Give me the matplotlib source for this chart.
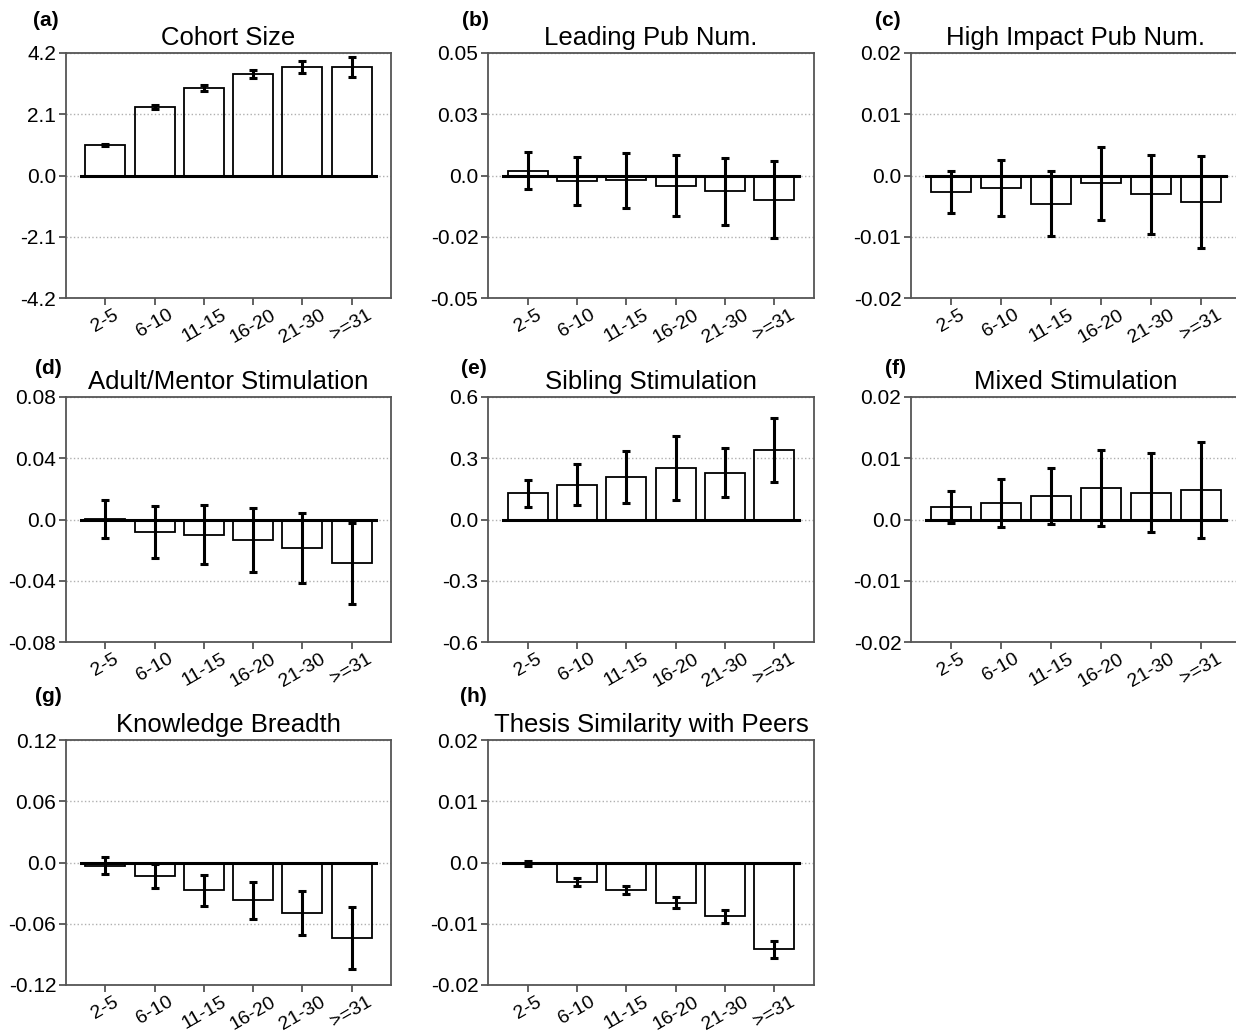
import matplotlib
matplotlib.use("Agg")
import matplotlib.pyplot as plt
import numpy as np

plt.rcParams["font.family"] = ["Liberation Sans", "DejaVu Sans"]

groups = ["2-5", "6-10", "11-15", "16-20", "21-30", ">=31"]

titles = [
    "Cohort Size",
    "Leading Pub Num.",
    "High Impact Pub Num.",
    "Adult/Mentor Stimulation",
    "Sibling Stimulation",
    "Mixed Stimulation",
    "Knowledge Breadth",
    "Thesis Similarity with Peers",
]
letters = ["(a)", "(b)", "(c)", "(d)", "(e)", "(f)", "(g)", "(h)"]

cohort_size = [1.04, 2.35, 3.00, 3.48, 3.72, 3.72]
cohort_size_err = [0.03, 0.07, 0.11, 0.14, 0.19, 0.33]

leading_pub = [0.002, -0.0022, -0.002, -0.0041, -0.0065, -0.0099]
leading_pub_err = [0.0076, 0.0097, 0.0112, 0.0124, 0.0136, 0.0157]

high_impact = [-0.0027, -0.002, -0.0046, -0.0013, -0.0031, -0.0043]
high_impact_err = [0.0035, 0.0046, 0.0053, 0.0059, 0.0065, 0.0075]

adult_mentor = [0.0004, -0.0083, -0.0099, -0.0136, -0.0184, -0.0287]
adult_mentor_err = [0.0124, 0.0168, 0.0193, 0.021, 0.0229, 0.0265]

sibling = [0.128, 0.171, 0.209, 0.253, 0.229, 0.342]
sibling_err = [0.067, 0.10, 0.127, 0.158, 0.119, 0.157]

mixed = [0.002, 0.0027, 0.0038, 0.0052, 0.0044, 0.0048]
mixed_err = [0.0026, 0.0039, 0.0046, 0.0062, 0.0064, 0.0079]

knowledge = [-0.0033, -0.0134, -0.0272, -0.037, -0.0495, -0.0741]
knowledge_err = [0.0084, 0.012, 0.0152, 0.0182, 0.022, 0.0303]

thesis_sim = [-0.0002, -0.0032, -0.0045, -0.0066, -0.0088, -0.0142]
thesis_sim_err = [0.0004, 0.0006, 0.0007, 0.0009, 0.0011, 0.0014]

values = [cohort_size, leading_pub, high_impact, adult_mentor,
          sibling, mixed, knowledge, thesis_sim]
errors = [cohort_size_err, leading_pub_err, high_impact_err, adult_mentor_err,
          sibling_err, mixed_err, knowledge_err, thesis_sim_err]

y_limits = [4.2, 0.05, 0.02, 0.08, 0.6, 0.02, 0.12, 0.02]
y_labels = [
    ["-4.2", "-2.1", "0.0", "2.1", "4.2"],
    ["-0.05", "-0.02", "0.0", "0.03", "0.05"],
    ["-0.02", "-0.01", "0.0", "0.01", "0.02"],
    ["-0.08", "-0.04", "0.0", "0.04", "0.08"],
    ["-0.6", "-0.3", "0.0", "0.3", "0.6"],
    ["-0.02", "-0.01", "0.0", "0.01", "0.02"],
    ["-0.12", "-0.06", "0.0", "0.06", "0.12"],
    ["-0.02", "-0.01", "0.0", "0.01", "0.02"],
]

W, H = 1236, 1034
col_left = [66, 488, 911]
col_width = [325, 326, 330]
row_top = [53, 397, 740]
row_height = 245
label_pos = [(33, 21), (462, 21), (875, 21),
             (35, 368), (461, 368), (885, 368),
             (35, 697), (460, 697)]

spine_color = "#555555"

fig = plt.figure(figsize=(W / 100, H / 100), dpi=100)

for i in range(8):
    r, c = divmod(i, 3)
    left = col_left[c] / W
    bottom = 1 - (row_top[r] + row_height) / H
    ax = fig.add_axes([left, bottom, col_width[c] / W, row_height / H])

    x = np.arange(len(groups))
    lim = y_limits[i]

    ax.bar(x, values[i], width=0.81, facecolor="none", edgecolor="black",
           linewidth=1.3, zorder=3)
    ax.errorbar(x, values[i], yerr=errors[i], fmt="none", ecolor="black",
                elinewidth=2.2, capsize=3, capthick=2.2, zorder=4)
    ax.plot([-0.5, 5.5], [0, 0], color="black", linewidth=2.2, zorder=5)

    ax.set_xlim(-0.8, 5.8)
    ax.set_ylim(-lim, lim)
    ax.set_yticks([-lim, -lim / 2, 0, lim / 2, lim])
    ax.set_yticklabels(y_labels[i])
    ax.set_xticks(x)
    ax.set_xticklabels(groups, rotation=30)

    ax.yaxis.grid(True, linestyle=":", color="#b0b0b0", linewidth=1)
    ax.set_axisbelow(True)

    for sp in ax.spines.values():
        sp.set_color(spine_color)
        sp.set_linewidth(1.3)
    ax.tick_params(axis="both", colors=spine_color, labelcolor="black",
                   length=5, width=1.3, pad=2)
    ax.tick_params(axis="y", labelsize=15)
    ax.tick_params(axis="x", labelsize=14, pad=1)

    ax.set_title(titles[i], fontsize=18.5, pad=6)

    lx, ly = label_pos[i]
    fig.text(lx / W, 1 - ly / H, letters[i], fontsize=15, fontweight="bold",
             ha="left", va="center")

fig.savefig("out.png", dpi=100)
